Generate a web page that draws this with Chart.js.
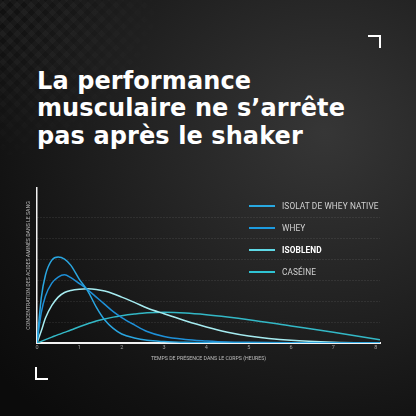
<!DOCTYPE html>
<html>
<head>
<meta charset="utf-8">
<script src="https://cdn.jsdelivr.net/npm/chart.js@4/dist/chart.umd.min.js"></script>
<style>
  html, body { margin: 0; padding: 0; }
  body {
    width: 416px; height: 416px; overflow: hidden; position: relative;
    background: radial-gradient(ellipse 420px 380px at 78% 32%, #363636 0%, #222 45%, #121212 80%, #0b0b0b 100%);
    font-family: Roboto, "DejaVu Sans", sans-serif;
  }
  .pattern {
    position: absolute; left: 0; top: 0; width: 416px; height: 416px;
    background-image:
      repeating-linear-gradient(45deg, rgba(255,255,255,0.035) 0 5px, transparent 5px 10px),
      repeating-linear-gradient(-45deg, rgba(255,255,255,0.035) 0 5px, transparent 5px 10px);
    -webkit-mask-image: radial-gradient(circle 170px at 0% 0%, #000 0%, transparent 100%);
    mask-image: radial-gradient(circle 170px at 0% 0%, #000 0%, transparent 100%);
  }
  .title {
    position: absolute; left: 37px; top: 68px; color: #fff;
    font-family: "DejaVu Sans", sans-serif; font-weight: bold;
    font-size: 24px; line-height: 27.3px; letter-spacing: 0.1px;
  }
  .corner { position: absolute; border-color: #fff; border-style: solid; }
  #tr { left: 368px; top: 35px; width: 11px; height: 11px; border-width: 2px 2px 0 0; }
  #bl { left: 35px; top: 367px; width: 11px; height: 11px; border-width: 0 0 2px 2px; }
  canvas { position: absolute; left: 0; top: 0; }
  #legend { position: absolute; left: 249px; top: 195px; }
  .row { height: 22px; display: flex; align-items: center; }
  .row span.swatch { width: 26px; height: 2px; margin-right: 7px; }
  .row span.label { color: #d2d2d2; font-size: 8.3px; letter-spacing: 0.1px; }
  .row.bold span.label { color: #fff; font-weight: bold; }
</style>
</head>
<body>
<div class="pattern"></div>
<div class="title">La performance<br>musculaire ne s’arrête<br>pas après le shaker</div>
<div class="corner" id="tr"></div>
<div class="corner" id="bl"></div>
<canvas id="chart" width="416" height="416"></canvas>
<div id="legend"></div>
<script>
// hours after intake (x axis)
const hours = [0, 0.1, 0.2, 0.35, 0.5, 0.65, 0.8, 1.0, 1.2, 1.4, 1.6, 1.8, 2.0, 2.3, 2.6, 3.0, 3.5, 4.0, 4.5, 5.0, 6.0, 7.0, 8.1];

const seriesNames = ['ISOLAT DE WHEY NATIVE', 'WHEY', 'ISOBLEND', 'CASÉINE'];
const seriesColors = ['#2aa6e0', '#1e90d8', '#a6ecf1', '#33b8c6'];
const legendColors = ['#29a9e1', '#1c9be0', '#5fd9e6', '#2fc3d3'];

const isolat = [0, 2.15, 3.26, 3.97, 4.12, 4.02, 3.72, 3.05, 2.49, 1.72, 1.10, 0.70, 0.43, 0.24, 0.13, 0.07, 0.03, 0.01, 0, 0, 0, 0, 0];
const whey = [0, 1.44, 2.25, 2.87, 3.16, 3.27, 3.13, 2.85, 2.55, 2.2, 1.85, 1.5, 1.22, 0.87, 0.55, 0.31, 0.17, 0.1, 0.05, 0.03, 0.01, 0, 0];
const isoblend = [0, 0.57, 1.2, 1.8, 2.2, 2.42, 2.52, 2.58, 2.6, 2.57, 2.49, 2.36, 2.2, 1.95, 1.68, 1.4, 1.07, 0.77, 0.52, 0.34, 0.13, 0.04, 0.01];
const caseine = [0, 0.08, 0.16, 0.28, 0.4, 0.51, 0.62, 0.78, 0.92, 1.05, 1.15, 1.24, 1.31, 1.39, 1.45, 1.47, 1.44, 1.36, 1.25, 1.12, 0.82, 0.52, 0.16];

const xTicks = [0, 1, 2, 3, 4, 5, 6, 7, 8];
const yGrid = [0, 1, 2, 3, 4, 5, 6];

const allSeries = [isolat, whey, isoblend, caseine];

// legend
const legend = document.getElementById('legend');
seriesNames.forEach((name, i) => {
  legend.innerHTML += `<div class="row${name === 'ISOBLEND' ? ' bold' : ''}">
    <span class="swatch" style="background:${legendColors[i]}"></span>
    <span class="label">${name}</span></div>`;
});

const ctx = document.getElementById('chart').getContext('2d');
new Chart(ctx, {
  type: 'line',
  data: {
    datasets: allSeries.map((vals, i) => ({
      label: seriesNames[i],
      data: vals.map((v, j) => ({ x: hours[j], y: v })),
      borderColor: seriesColors[i],
      borderWidth: 1.5,
      pointRadius: 0,
      fill: false,
      cubicInterpolationMode: 'monotone'
    }))
  },
  options: {
    responsive: false,
    animation: false,
    layout: { padding: { left: 20, top: 188, right: 36, bottom: 50 } },
    plugins: { legend: { display: false }, tooltip: { enabled: false } },
    scales: {
      x: {
        type: 'linear', min: 0, max: 8.1,
        afterBuildTicks: s => { s.ticks = xTicks.map(v => ({ value: v })); },
        afterFit: s => { s.height = 23; },
        grid: { display: false, drawTicks: false },
        border: { color: '#f2f2f2', width: 2 },
        ticks: { color: '#a0a0a0', font: { size: 5.5, family: 'Roboto' }, padding: 1, maxRotation: 0 },
        title: {
          display: true, text: 'TEMPS DE PRÉSENCE DANS LE CORPS (HEURES)',
          color: '#bdbdbd', font: { size: 5.2, family: 'Roboto' }, padding: { top: 0, bottom: 4 }
        }
      },
      y: {
        min: 0, max: 7.43,
        afterBuildTicks: s => { s.ticks = yGrid.map(v => ({ value: v })); },
        afterFit: s => { s.width = 17; },
        ticks: { display: false },
        grid: {
          drawTicks: false,
          color: c => c.tick && c.tick.value === 0 ? 'rgba(0,0,0,0)' : 'rgba(255,255,255,0.15)',
          lineWidth: 1
        },
        border: { color: '#f2f2f2', width: 1.5, dash: [1, 2] },
        title: {
          display: true, text: 'CONCENTRATION DES ACIDES AMINÉS DANS LE SANG',
          color: '#bdbdbd', font: { size: 5.2, family: 'Roboto' }, padding: { top: 6, bottom: 0 }
        }
      }
    }
  }
});
</script>
</body>
</html>
